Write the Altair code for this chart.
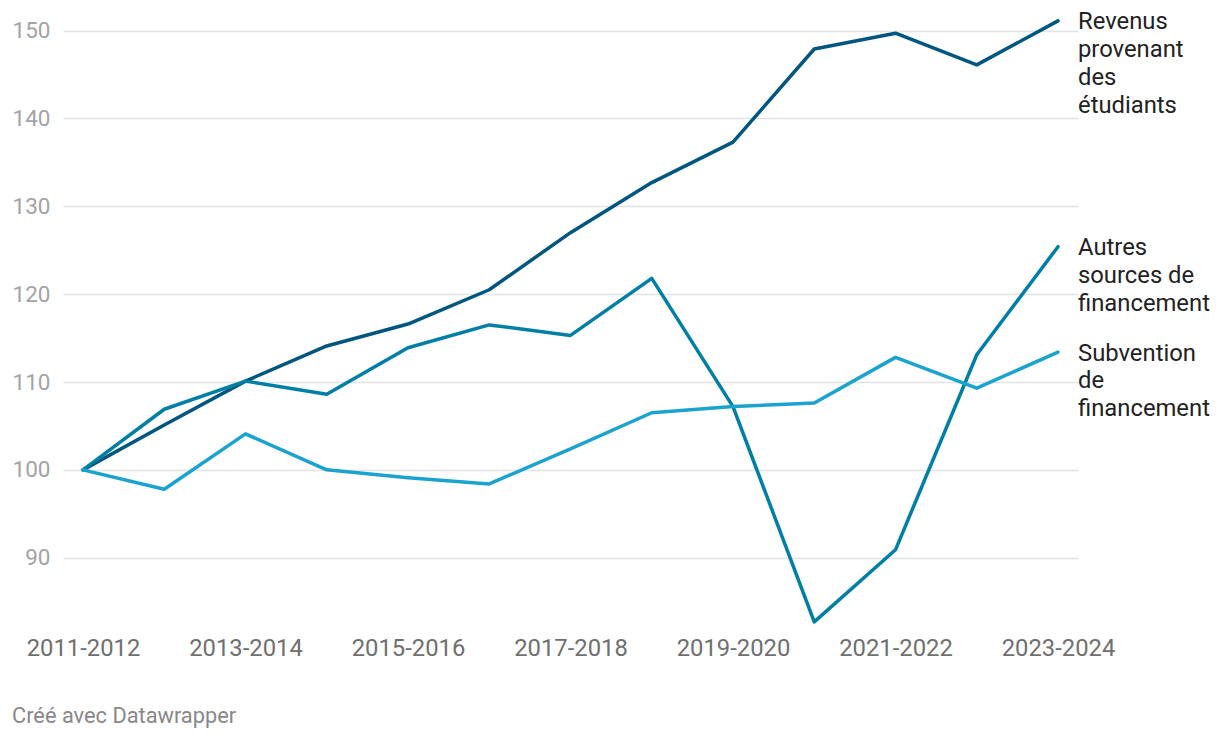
import altair as alt
import pandas as pd

years = ["2011-2012", "2012-2013", "2013-2014", "2014-2015", "2015-2016", "2016-2017",
         "2017-2018", "2018-2019", "2019-2020", "2020-2021", "2021-2022", "2022-2023", "2023-2024"]
revenus = [100, 105.1, 110.1, 114.1, 116.6, 120.5, 127.0, 132.7, 137.3, 147.9, 149.7, 146.1, 151.1]
autres = [100, 106.9, 110.1, 108.6, 113.9, 116.5, 115.3, 121.8, 107.2, 82.7, 90.9, 113.1, 125.4]
subvention = [100, 97.8, 104.1, 100.0, 99.1, 98.4, 102.4, 106.5, 107.2, 107.6, 112.8, 109.3, 113.4]

series_names = ["Revenus provenant des étudiants", "Autres sources de financement", "Subvention de financement"]
series_labels = ["Revenus\nprovenant\ndes\nétudiants", "Autres\nsources de\nfinancement", "Subvention\nde\nfinancement"]
colors = ["#00567f", "#007fa6", "#1ba3d0"]
x_ticks = ["2011-2012", "2013-2014", "2015-2016", "2017-2018", "2019-2020", "2021-2022", "2023-2024"]
y_ticks = [90, 100, 110, 120, 130, 140, 150]

rows = []
for name, vals in zip(series_names, [revenus, autres, subvention]):
    for y, v in zip(years, vals):
        rows.append({"year": y, "value": v, "series": name})
df = pd.DataFrame(rows)

ends = pd.DataFrame({
    "year": [years[-1]] * 3,
    "value": [revenus[-1], autres[-1], subvention[-1]],
    "series": series_names,
    "label": series_labels,
})

x_enc = alt.X("year:O", sort=years,
              scale=alt.Scale(type="point", padding=0.246),
              axis=alt.Axis(values=x_ticks, title=None, labelAngle=0, ticks=False, domain=False,
                            grid=False, labelFontSize=23.8, labelColor="#6f6f6f",
                            labelFont="Roboto", labelPadding=8))
y_enc = alt.Y("value:Q",
              scale=alt.Scale(domain=[82, 152], nice=False, zero=False),
              axis=alt.Axis(values=y_ticks, title=None, ticks=False, domain=False,
                            grid=True, gridColor="#e3e3e3", gridWidth=1.5,
                            labelFontSize=22.5, labelColor="#a3a3a3", labelFont="Roboto",
                            labelPadding=13))
color_enc = alt.Color("series:N", scale=alt.Scale(domain=series_names, range=colors), legend=None)

lines = alt.Chart(df).mark_line(strokeWidth=3.5, strokeJoin="round", strokeCap="round").encode(
    x=x_enc, y=y_enc, color=color_enc)

labels = alt.Chart(ends).mark_text(align="left", baseline="alphabetic", dx=20, dy=8.5,
                                   fontSize=23.8, font="Roboto", color="#222222",
                                   lineBreak="\n", lineHeight=27.7).encode(
    x=alt.X("year:O", sort=years), y="value:Q", text="label:N")

chart = alt.layer(lines, labels).properties(
    width=1015, height=615,
    autosize=alt.AutoSizeParams(type="none"),
    padding={"left": 55, "top": 5, "right": 134, "bottom": 102},
    title=alt.TitleParams("Créé avec Datawrapper", orient="bottom", anchor="start",
                          frame="group", dx=-51, offset=46, fontSize=21.8,
                          font="Roboto", fontWeight="normal", color="#888888"),
).configure_view(stroke=None)

chart.save("out.html", embed_options={"renderer": "svg", "actions": False})
